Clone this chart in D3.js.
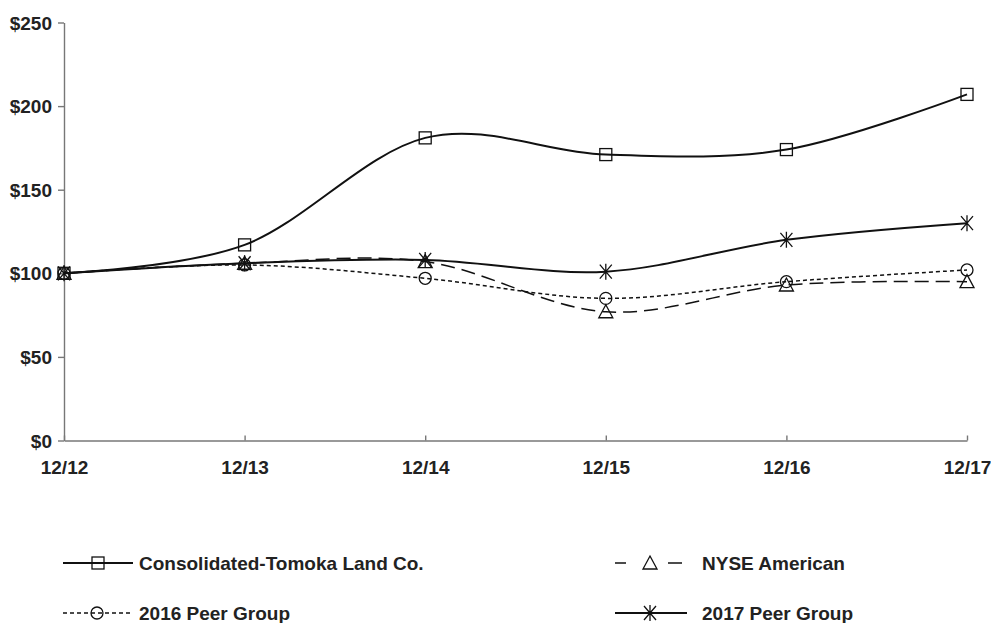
<!DOCTYPE html>
<html>
<head>
<meta charset="utf-8">
<script src="https://cdn.jsdelivr.net/npm/d3@7"></script>
<style>
  html, body { margin: 0; padding: 0; background: #fff; }
  svg { display: block; }
  text { font-family: "Liberation Sans", Arial, sans-serif; font-weight: bold; fill: #222; }
</style>
</head>
<body>
<svg id="chart" width="991" height="623"></svg>
<script>
// ---- data ----
const categories = ["12/12", "12/13", "12/14", "12/15", "12/16", "12/17"];
const ctoValues = [100, 117, 181, 171, 174, 207];
const nyseValues = [100, 106, 107, 77, 93, 95];
const peer2016Values = [100, 105, 97, 85, 95, 102];
const peer2017Values = [100, 106, 108, 101, 120, 130];
const yTickValues = [0, 50, 100, 150, 200, 250];
const seriesNames = ["Consolidated-Tomoka Land Co.", "NYSE American", "2016 Peer Group", "2017 Peer Group"];

const series = [
  { name: seriesNames[0], values: ctoValues, marker: "square", dash: null, width: 2 },
  { name: seriesNames[1], values: nyseValues, marker: "triangle", dash: "14,7", width: 1.5 },
  { name: seriesNames[2], values: peer2016Values, marker: "circle", dash: "4,3", width: 1.5 },
  { name: seriesNames[3], values: peer2017Values, marker: "star", dash: null, width: 2 }
];

const svg = d3.select("#chart");
const x = d3.scalePoint().domain(categories).range([64, 967]);
const y = d3.scaleLinear().domain([0, 250]).range([440.5, 22.5]);
const ink = "#111";
const axisColor = "#777";

// axes
const yAxis = svg.append("g").attr("transform", "translate(64,0)")
  .call(d3.axisLeft(y).tickValues(yTickValues).tickFormat(d => "$" + d)
    .tickSizeInner(6).tickSizeOuter(0).tickPadding(6));
const xAxis = svg.append("g").attr("transform", "translate(0,440.5)")
  .call(d3.axisBottom(x).tickSizeInner(-5).tickSizeOuter(0).tickPadding(20));
[yAxis, xAxis].forEach(g => {
  g.selectAll("path, line").attr("stroke", axisColor).attr("stroke-width", 1.4);
  g.selectAll("text").attr("font-size", 19).attr("fill", "#222")
    .attr("font-family", "'Liberation Sans', Arial, sans-serif").attr("font-weight", "bold");
});
yAxis.selectAll("text").attr("dy", "0.35em");

// marker drawer
function drawMarker(g, type, cx, cy) {
  const m = g.append("g").attr("transform", `translate(${cx},${cy})`)
    .attr("fill", "none").attr("stroke", ink).attr("stroke-width", 1.3);
  if (type === "square") {
    m.append("rect").attr("x", -6).attr("y", -6).attr("width", 12).attr("height", 12);
  } else if (type === "triangle") {
    m.append("path").attr("d", "M0,-7 L7,6 L-7,6 Z");
  } else if (type === "circle") {
    m.append("circle").attr("r", 6);
  } else if (type === "star") {
    m.append("path").attr("d", "M0,-8 L0,8 M-6,-7 L6,7 M-6,7 L6,-7");
  }
}

// lines
const line = d3.line()
  .x((d, i) => x(categories[i]))
  .y(d => y(d))
  .curve(d3.curveCardinal.tension(0));

series.forEach(s => {
  svg.append("path").datum(s.values)
    .attr("d", line)
    .attr("fill", "none")
    .attr("stroke", ink)
    .attr("stroke-width", s.width)
    .attr("stroke-dasharray", s.dash);
});
series.forEach(s => {
  const g = svg.append("g");
  s.values.forEach((v, i) => drawMarker(g, s.marker, x(categories[i]), y(v)));
});

// legend
const legendItems = [
  { s: series[0], x0: 63, x1: 133, mx: 98, ty: 563, tx: 139 },
  { s: series[1], x0: 615, x1: 682, mx: 650, ty: 563, tx: 702 },
  { s: series[2], x0: 63, x1: 131, mx: 97, ty: 613, tx: 139 },
  { s: series[3], x0: 615, x1: 687, mx: 650, ty: 613, tx: 702 }
];
legendItems.forEach(it => {
  const g = svg.append("g");
  if (it.s.marker === "triangle") {
    g.append("line").attr("x1", it.x0).attr("x2", it.x0 + 11).attr("y1", it.ty).attr("y2", it.ty)
      .attr("stroke", ink).attr("stroke-width", 1.5);
    g.append("line").attr("x1", it.x1 - 14).attr("x2", it.x1).attr("y1", it.ty).attr("y2", it.ty)
      .attr("stroke", ink).attr("stroke-width", 1.5);
  } else {
    g.append("line").attr("x1", it.x0).attr("x2", it.x1).attr("y1", it.ty).attr("y2", it.ty)
      .attr("stroke", ink).attr("stroke-width", it.s.width)
      .attr("stroke-dasharray", it.s.dash);
  }
  drawMarker(g, it.s.marker, it.mx, it.ty);
  g.append("text").attr("x", it.tx).attr("y", it.ty).attr("dy", "0.35em")
    .attr("font-size", 19).text(it.s.name);
});
</script>
</body>
</html>
